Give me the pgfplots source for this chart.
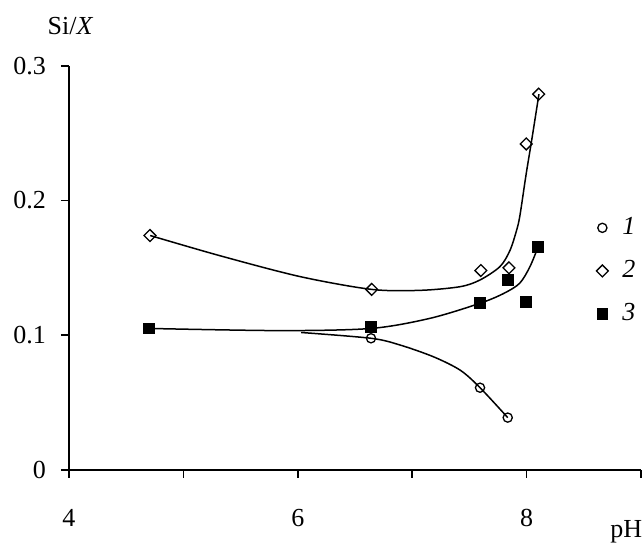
\documentclass[border=0pt]{standalone}
\usepackage{fontspec}
\setmainfont{Liberation Serif}
\usepackage{pgfplots}
\pgfplotsset{compat=1.18}
\begin{document}
\fontsize{13}{15}\selectfont
\begin{tikzpicture}
\begin{axis}[
  scale only axis, width=286pt, height=202pt,
  xmin=4, xmax=9, ymin=0, ymax=0.3,
  axis lines=left, axis line style={-, line width=0.75pt},
  clip=false,
  xtick={4,5,6,7,8,9}, xticklabels={4,,6,,8,},
  ytick={0,0.1,0.2,0.3}, yticklabels={0,0.1,0.2,0.3},
  tick align=outside, major tick length=4pt,
  tick style={line width=0.75pt, black},
  /pgf/number format/assume math mode=true,
  ticklabel style={font=\fontsize{13}{15}\selectfont},
  xticklabel style={yshift=-11pt},
  yticklabel style={xshift=-3pt},
  legend style={draw=none, fill=none, inner sep=0pt, nodes={inner sep=2pt, font=\fontsize{13}{15}\selectfont},
    row sep=7pt, at={(axis cs:8.607,0.1477)}, anchor=west,
    /tikz/every odd column/.append style={column sep=5pt}},
  legend cell align=left,
]
% fitted curves
\addplot[black, line width=0.75pt, smooth, forget plot] coordinates {
 (6.03,0.102) (6.64,0.0977) (6.89,0.0928) (7.185,0.084) (7.42,0.074) (7.593,0.061) (7.835,0.0388)};
\addplot[black, line width=0.75pt, smooth, forget plot] coordinates {
 (4.71,0.174) (5.32,0.159) (6.02,0.1435) (6.646,0.134) (7.07,0.1333) (7.418,0.136) (7.593,0.141)
 (7.768,0.151) (7.855,0.163) (7.913,0.178) (7.942,0.189) (7.995,0.219) (8.045,0.245) (8.108,0.279)};
\addplot[black, line width=0.75pt, smooth, forget plot] coordinates {
 (4.70,0.105) (5.845,0.1034) (6.64,0.105) (7.155,0.1125) (7.593,0.1237) (7.80,0.131) (7.94,0.1386) (8.03,0.151) (8.10,0.1655)};
% data points
\addplot[only marks, mark=o, mark size=2.3pt, mark options={black, line width=0.65pt}] coordinates {
 (6.64,0.0977) (7.593,0.061) (7.835,0.0388)};
\addlegendentry{\textit{1}}
\addplot[only marks, mark=square, mark size=2.1pt, mark options={black, line width=0.65pt, rotate=45, fill=white}] coordinates {
 (4.708,0.174) (6.646,0.134) (7.60,0.148) (7.846,0.150) (7.997,0.242) (8.106,0.279)};
\addlegendentry{\textit{2}}
\addplot[only marks, mark=square*, mark size=2.7pt, mark options={black}] coordinates {
 (4.70,0.105) (6.64,0.106) (7.593,0.1237) (7.84,0.141) (7.995,0.125) (8.10,0.1655)};
\addlegendentry{\textit{3}}
\node[anchor=base west, inner sep=0pt] at (axis cs:8.729,-0.0505) {pH};
\node[anchor=base, inner sep=0pt] at (axis cs:4.013,0.323) {Si/\textit{X}};
\coordinate (bbBL) at (axis cs:3.397,-0.0542);
\coordinate (bbTR) at (axis cs:9.0175,0.3489);
\end{axis}
\pgfresetboundingbox
\path[use as bounding box] (bbBL) rectangle (bbTR);
\end{tikzpicture}
\end{document}
